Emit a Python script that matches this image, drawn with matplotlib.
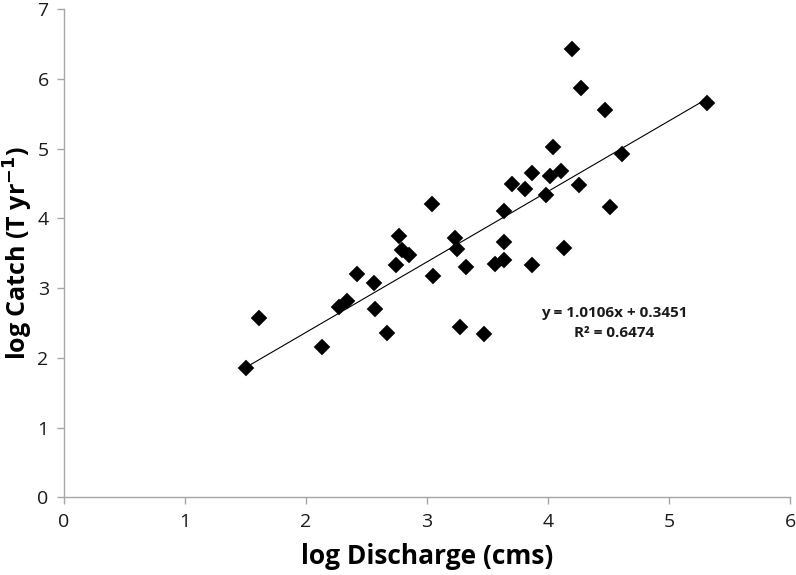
import matplotlib
matplotlib.use("Agg")
import matplotlib.pyplot as plt
import numpy as np

# log discharge (cms) vs log catch (T/yr)
log_discharge = [1.50, 1.61, 2.13, 2.27, 2.34, 2.42, 2.56, 2.57, 2.67, 2.74,
                 2.77, 2.79, 2.85, 3.04, 3.05, 3.23, 3.25, 3.27, 3.32, 3.47,
                 3.56, 3.64, 3.64, 3.64, 3.70, 3.81, 3.87, 3.87, 3.98, 4.02,
                 4.04, 4.11, 4.13, 4.20, 4.26, 4.27, 4.47, 4.51, 4.61, 5.31]
log_catch = [1.85, 2.57, 2.15, 2.73, 2.81, 3.20, 3.07, 2.70, 2.35, 3.33,
             3.75, 3.54, 3.48, 4.21, 3.18, 3.72, 3.56, 2.44, 3.31, 2.34,
             3.34, 3.41, 3.66, 4.11, 4.49, 4.42, 4.65, 3.33, 4.33, 4.61,
             5.02, 4.68, 3.57, 6.43, 4.48, 5.87, 5.55, 4.17, 4.92, 5.66]

# trendline as given on the chart
slope = 1.0106
intercept = 0.3451
r2 = 0.6474

x = np.array(log_discharge)
y = np.array(log_catch)

plt.rcParams['font.family'] = ['Open Sans', 'DejaVu Sans']

fig = plt.figure(figsize=(7.96, 5.75), dpi=100)
ax = fig.add_axes([0.0804, 0.135, 0.9121, 0.849])

xl = np.array([x.min(), x.max()])
ax.plot(xl, slope * xl + intercept, color='k', lw=0.8, zorder=2)
ax.plot(x, y, 'D', color='k', ms=8.2, mec='k', mew=0.3, zorder=3)

ax.set_xlim(0, 6)
ax.set_ylim(0, 7)
ax.set_xticks(range(0, 7))
ax.set_yticks(range(0, 8))

for side in ['top', 'right']:
    ax.spines[side].set_visible(False)
for side in ['left', 'bottom']:
    ax.spines[side].set_color('#a6a6a6')
    ax.spines[side].set_linewidth(1.0)
ax.tick_params(direction='out', length=5, width=1.0, color='#a6a6a6',
               labelsize=14, labelcolor='#1a1a1a', pad=6)

ax.set_xlabel('log Discharge (cms)', fontsize=19, fontweight='bold', labelpad=9)
ax.set_ylabel('log Catch (T yr$^{\\mathbf{-1}}$)', fontsize=18, fontweight='bold', labelpad=2)

ax.text(4.55, 2.64, 'y = %.4fx + %.4f' % (slope, intercept), ha='center', va='center',
        fontsize=11, fontweight='bold', color='#1a1a1a')
ax.text(4.55, 2.36, 'R² = %.4f' % r2, ha='center', va='center',
        fontsize=11, fontweight='bold', color='#1a1a1a')

fig.savefig('out.png', dpi=100)
